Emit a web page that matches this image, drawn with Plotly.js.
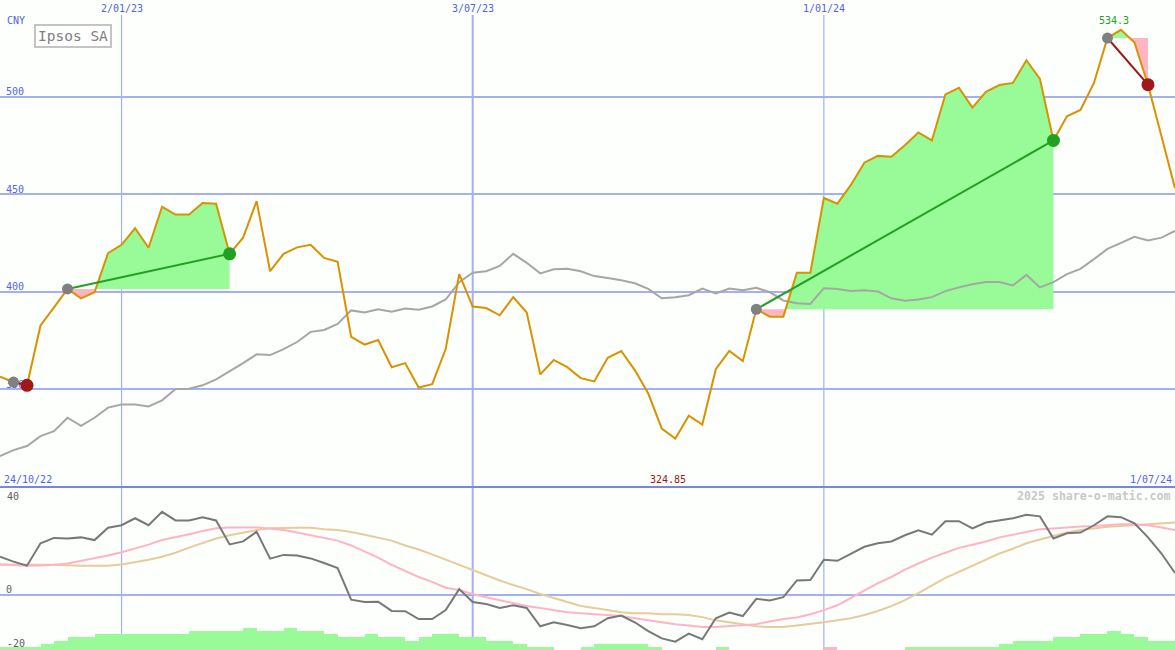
<!DOCTYPE html>
<html><head><meta charset="utf-8">
<script src="https://cdn.plot.ly/plotly-3.0.1.min.js"></script>
<style>html,body{margin:0;padding:0;background:#fcfffc;}#chart{width:1175px;height:650px;}</style>
</head><body><div id="chart"></div>
<script>
// ---------- data ----------
const startDate = [2022, 9, 31];          // first weekly point (Mon 31 Oct 2022)
const endDate = '2024-07-01';
const price = [356.6,353.8,352.1,382.8,392.1,401.5,396.7,399.8,419.9,424.1,432.6,422.6,443.6,439.6,439.6,
  445.6,445.2,419.5,427.8,446.5,410.6,419.5,422.8,424.1,417.4,415.4,377.0,373.0,375.3,361.4,
  363.5,351.0,352.7,370.7,409.1,392.5,391.7,388.0,397.3,389.4,357.7,365.1,361.4,355.8,
  354.1,366.2,369.7,359.9,347.9,329.9,324.85,336.5,332.0,360.4,369.7,364.5,391.1,387.3,387.3,
  409.8,409.8,448.1,445.2,454.8,466.2,469.7,469.3,475.1,481.7,477.6,501.2,504.6,494.4,
  502.5,506.0,507.1,518.7,509.1,477.6,490.0,493.2,507.1,530.1,534.3,527.8,506.2,479.7,453.1];
const relative = [315.8,318.9,321.0,326.1,328.6,335.5,331.3,335.5,340.7,342.3,342.3,341.3,344.4,350.2,350.4,
  352.1,355.2,359.3,363.5,368.0,367.6,370.7,374.3,379.5,380.5,383.6,390.5,389.4,391.1,389.8,
  391.5,390.9,392.5,396.1,405.0,409.8,410.6,413.3,419.5,414.9,409.5,411.6,411.8,410.6,
  408.1,407.1,406.0,404.4,401.5,396.7,397.3,398.3,401.7,399.2,401.7,400.8,402.1,399.8,395.6,
  394.2,393.8,401.9,401.5,400.4,400.8,400.2,396.7,395.4,396.1,397.3,400.4,402.3,403.9,
  405.0,405.0,403.3,408.7,402.3,405.0,409.1,411.8,416.8,422.0,425.1,428.2,426.3,427.8,431.3];
const momentum = [14.1,12.3,10.8,19.1,21.1,20.9,21.3,20.3,24.9,25.8,28.4,25.8,30.8,27.6,27.6,
  28.8,27.6,18.7,19.8,23.4,13.4,14.8,14.6,13.5,11.8,9.9,-1.8,-2.7,-2.6,-6.0,
  -6.1,-9.0,-9.0,-5.7,2.1,-2.7,-3.4,-4.9,-3.9,-4.9,-11.7,-10.2,-11.2,-12.4,
  -11.7,-8.7,-7.7,-10.2,-13.5,-16.2,-17.4,-14.4,-16.5,-8.7,-6.6,-7.9,-1.5,-2.1,-0.9,
  5.3,5.5,13.0,12.6,15.3,17.8,19.1,19.8,22.1,23.9,22.3,27.3,27.3,24.6,
  26.8,27.6,28.4,29.7,29.1,20.9,22.8,23.1,25.8,29.1,28.8,26.5,21.3,15.3,8.1];
const avgFast = [11.2,11.0,10.8,10.9,11.1,11.6,12.6,13.5,14.6,15.8,17.1,18.6,20.3,21.3,22.5,
  23.7,24.7,25.0,25.0,25.0,24.6,24.0,23.1,22.1,21.3,20.1,18.3,16.0,13.8,11.1,
  8.9,6.6,4.8,2.6,1.8,0.3,-0.9,-2.0,-3.0,-4.2,-4.9,-5.7,-6.5,-6.9,
  -7.2,-7.5,-7.9,-8.7,-9.5,-10.2,-10.9,-11.4,-12.0,-12.0,-11.7,-11.2,-10.9,-9.9,-9.0,
  -8.4,-7.2,-5.7,-3.9,-1.2,1.5,4.3,6.6,9.3,11.6,13.8,15.6,17.4,18.6,
  19.8,21.3,22.3,23.4,24.3,24.6,25.0,25.3,25.5,25.8,26.2,26.2,25.8,25.0,24.0];
const avgSlow = [11.2,11.1,11.1,11.1,11.1,10.9,10.8,10.8,10.8,11.2,12.0,13.0,14.1,15.6,17.5,
  19.1,20.9,22.1,23.1,24.0,24.7,24.9,24.9,24.9,24.3,24.0,23.3,22.3,21.3,20.1,
  18.3,16.8,15.0,13.0,11.1,9.0,7.1,5.3,3.6,2.1,0.3,-1.2,-2.7,-4.2,
  -4.9,-5.7,-6.5,-6.9,-6.9,-7.2,-7.2,-7.5,-8.3,-9.5,-10.2,-10.9,-11.7,-12.0,-12.0,
  -11.4,-10.9,-10.2,-9.5,-8.7,-7.5,-6.0,-4.2,-2.0,0.6,3.3,6.3,8.5,10.8,
  13.0,15.3,17.1,19.1,20.5,21.9,23.1,24.0,24.7,25.2,25.5,25.8,26.1,26.4,26.8];
// weekly signal strength bars (negative = pink)
const signalBars = [1,1,1,2,3,4,4,5,5,5,5,5,5,5,6,6,6,6,7,6,6,7,6,6,5,4,4,5,4,4,
  3,4,5,5,4,4,3,3,2,1,1,0,0,1,2,2,2,2,1,0,0,0,0,1,0,0,0,0,0,0,
  0,-1,0,0,0,0,0,1,1,1,1,1,1,1,2,3,3,3,4,4,5,5,6,5,4,3,3];
const tradeEntries = [1, 5, 56, 82];
const tradeExits = [2, 17, 78, 85];
const dateTicks = ['2023-01-02', '2023-07-03', '2024-01-01'];
const dateTickText = ['2/01/23', '3/07/23', '1/01/24'];
const firstLabel = '24/10/22', lastLabel = '1/07/24';
const currency = 'CNY', stockName = 'Ipsos SA', credit = '2025 share-o-matic.com';

// ---------- helpers ----------
const W = 1175, H = 650;
const DAY = 864e5;
const t0 = Date.UTC(startDate[0], startDate[1], startDate[2]);
const toStr = ms => new Date(ms).toISOString().replace('T', ' ').replace('Z', '');
const wk = i => t0 + i * 7 * DAY;
const dates = price.map((_, i) => toStr(wk(i)));
const px = x => x / W, py = y => 1 - y / H;
const BLUE = '#5562ee', GRID = '#a3b1f2', MONO = 'DejaVu Sans Mono';
const GREEN_FILL = '#98fb98', PINK_FILL = '#ffb6c1';

const traces = [];
// trade fills
tradeEntries.forEach((e, k) => {
  const x = tradeExits[k], b = price[e];
  const pts = [];
  for (let i = e; i <= x; i++) {
    pts.push([wk(i), price[i]]);
    if (i < x) {
      const a = price[i] - b, c = price[i + 1] - b;
      if (a * c < 0) {
        const f = -a / (c - a);
        pts.push([wk(i) + f * 7 * DAY, b]);
      }
    }
  }
  const mk = (fn, col) => ({
    x: pts.map(p => toStr(p[0])).concat([toStr(wk(x)), toStr(wk(e))]),
    y: pts.map(p => fn(p[1], b)).concat([b, b]),
    fill: 'toself', fillcolor: col, mode: 'lines', line: {width: 0},
    hoverinfo: 'skip', showlegend: false, xaxis: 'x', yaxis: 'y'
  });
  traces.push(mk(Math.max, GREEN_FILL));
  traces.push(mk(Math.min, PINK_FILL));
});
traces.push({x: dates, y: relative, mode: 'lines', line: {color: '#a6a6a6', width: 2}, xaxis: 'x', yaxis: 'y', showlegend: false});
traces.push({x: dates, y: price, mode: 'lines', line: {color: '#d99200', width: 2}, xaxis: 'x', yaxis: 'y', showlegend: false});
tradeEntries.forEach((e, k) => {
  const x = tradeExits[k];
  const win = price[x] >= price[e];
  traces.push({x: [dates[e], dates[x]], y: [price[e], price[x]], mode: 'lines',
    line: {color: win ? '#22a022' : '#a01818', width: 2}, xaxis: 'x', yaxis: 'y', showlegend: false});
});
traces.push({x: tradeEntries.map(i => dates[i]), y: tradeEntries.map(i => price[i]), mode: 'markers',
  marker: {color: '#808080', size: 11}, xaxis: 'x', yaxis: 'y', showlegend: false});
traces.push({x: tradeExits.map(i => dates[i]), y: tradeExits.map(i => price[i]), mode: 'markers',
  marker: {color: tradeExits.map((x, k) => price[x] >= price[tradeEntries[k]] ? '#22a022' : '#a01818'), size: 13},
  xaxis: 'x', yaxis: 'y', showlegend: false});

// bottom panel
traces.push({type: 'bar', x: signalBars.map((_, k) => dates[k]), y: signalBars.map(v => Math.abs(v)),
  marker: {color: signalBars.map(v => v < 0 ? PINK_FILL : GREEN_FILL), line: {width: 0}},
  offset: 0, width: signalBars.map(() => 7 * DAY), xaxis: 'x', yaxis: 'y3', showlegend: false});
traces.push({x: dates, y: avgSlow, mode: 'lines', line: {color: '#e6cc9a', width: 2}, xaxis: 'x', yaxis: 'y2', showlegend: false});
traces.push({x: dates, y: avgFast, mode: 'lines', line: {color: '#ffb4c6', width: 2}, xaxis: 'x', yaxis: 'y2', showlegend: false});
traces.push({x: dates, y: momentum, mode: 'lines', line: {color: '#787878', width: 2}, xaxis: 'x', yaxis: 'y2', showlegend: false});

const splitY = 487;
const shapes = dateTicks.map((d, k) => ({type: 'line', xref: 'x', yref: 'paper', x0: d, x1: d, y0: 0, y1: py(15),
  line: {color: GRID, width: k === 1 ? 2 : 1.2}, layer: 'below'}));
shapes.push({type: 'line', xref: 'paper', yref: 'paper', x0: 0, x1: 1, y0: py(splitY), y1: py(splitY),
  line: {color: '#7585e8', width: 2}, layer: 'above'});

const iMax = price.indexOf(Math.max(...price));
const iMin = price.indexOf(Math.min(...price));
const ann = [];
const txt = (text, x, y, xanchor, color, extra) => Object.assign({text, x, y, xref: 'paper', yref: 'paper',
  xanchor, yanchor: 'middle', showarrow: false, font: {family: MONO, size: 10, color}}, extra || {});
dateTicks.forEach((d, k) => ann.push(Object.assign(txt(dateTickText[k], d, py(8), 'center', BLUE), {xref: 'x'})));
ann.push(txt(firstLabel, px(2), py(479), 'left', BLUE));
ann.push(txt(lastLabel, px(1174), py(479), 'right', BLUE));
ann.push(Object.assign(txt(String(price[iMin]), dates[iMin], py(479), 'center', '#a01818'), {xref: 'x', xshift: -7}));
ann.push(Object.assign(txt(String(price[iMax]), dates[iMax], py(21), 'center', '#22a022'), {xref: 'x', xshift: -7}));
ann.push(txt(currency, px(5), py(21), 'left', BLUE));
ann.push(txt('40', px(5), py(496), 'left', '#606060'));
ann.push(txt('-20', px(5), py(643), 'left', '#606060'));
ann.push(txt(stockName, px(73), py(36.5), 'center', '#808080', {font: {family: MONO, size: 14.5, color: '#808080'},
  bordercolor: '#c4c4c4', borderwidth: 2, borderpad: 2, bgcolor: '#ffffff'}));
ann.push(txt(credit, px(1173), py(496), 'right', '#c8c8c8', {font: {family: MONO, size: 11.6, color: '#c8c8c8', weight: 'bold'}}));

const layout = {
  width: W, height: H, margin: {l: 0, r: 0, t: 0, b: 0},
  paper_bgcolor: '#fcfffc', plot_bgcolor: '#fcfffc', showlegend: false, bargap: 0,
  xaxis: {type: 'date', range: [dates[0], endDate], showgrid: false, showticklabels: false, zeroline: false,
    showline: false, ticks: '', anchor: 'y2', fixedrange: true},
  yaxis: {domain: [1 - splitY / H, py(15)], range: [300, 541.9], tickvals: [350, 400, 450, 500],
    showgrid: true, gridcolor: GRID, gridwidth: 2, zeroline: false, showline: false, ticks: '',
    ticklabelposition: 'inside', ticklabelshift: -5, ticklabelstandoff: 3, layer: 'below traces',
    tickfont: {family: MONO, size: 10, color: BLUE}},
  yaxis2: {domain: [0, 1 - splitY / H], range: [-20.5, 40], tickvals: [0], ticktext: ['0'],
    showgrid: true, gridcolor: GRID, gridwidth: 2, zeroline: false, showline: false, ticks: '',
    ticklabelposition: 'inside', ticklabelshift: -5, ticklabelstandoff: 3, layer: 'below traces',
    tickfont: {family: MONO, size: 10, color: '#606060'}},
  yaxis3: {overlaying: 'y2', range: [0, 51.7], visible: false},
  shapes, annotations: ann
};
Plotly.newPlot('chart', traces, layout, {staticPlot: true, displayModeBar: false});
</script></body></html>
